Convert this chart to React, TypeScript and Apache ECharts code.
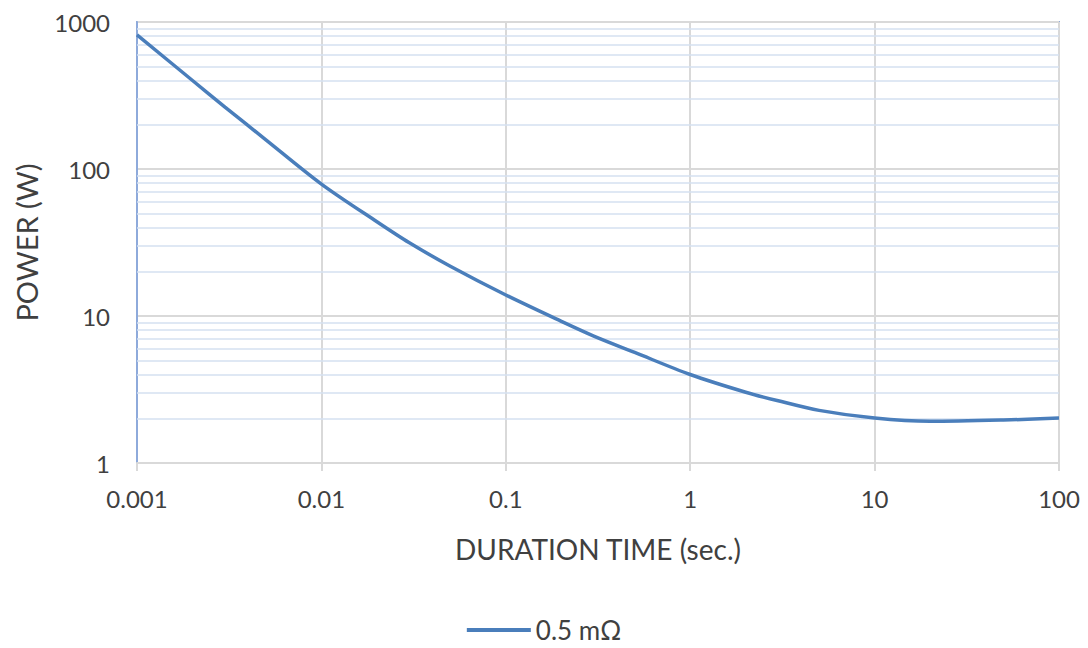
import React, { useEffect, useRef } from "react";
import * as echarts from "echarts";

const durations = [0.001, 0.002, 0.003, 0.005, 0.01, 0.02, 0.03, 0.05, 0.1, 0.2, 0.3, 0.5, 1, 2, 3, 5, 10, 20, 50, 100];
const power = [817, 400, 264, 158, 79, 43.8, 31.5, 21.8, 13.9, 9.2, 7.3, 5.65, 4.0, 3.03, 2.65, 2.28, 2.02, 1.92, 1.96, 2.02];
const seriesName = "0.5 mΩ";
const minorGridValues = [2, 3, 4, 5, 6, 7, 8, 9, 20, 30, 40, 50, 60, 70, 80, 90, 200, 300, 400, 500, 600, 700, 800, 900];

const FONT = "Lato";

export default function App() {
  const ref = useRef<HTMLDivElement>(null);
  useEffect(() => {
    if (!ref.current) return;
    const chart = echarts.init(ref.current, undefined, { renderer: "svg" });
    chart.setOption({
      animation: false,
      backgroundColor: "#ffffff",
      textStyle: { fontFamily: FONT },
      grid: {
        left: 137,
        right: 29,
        top: 22,
        bottom: 185,
        show: true,
        borderColor: "#8eaadb",
        borderWidth: 2,
        containLabel: false,
      },
      legend: {
        show: true,
        top: 617,
        left: "center",
        padding: 0,
        itemWidth: 64,
        itemHeight: 14,
        itemGap: 6,
        icon: "path://M0,5 L64,5 L64,9 L0,9 Z",
        textStyle: { fontFamily: FONT, fontSize: 26, color: "#404040" },
        data: [seriesName],
      },
      xAxis: {
        type: "log",
        logBase: 10,
        min: 0.001,
        max: 100,
        name: "DURATION TIME (sec.)",
        nameLocation: "middle",
        nameGap: 72,
        nameTextStyle: { fontFamily: FONT, fontSize: 28, color: "#404040" },
        axisLine: { show: true, lineStyle: { color: "#d9d9d9", width: 2 } },
        axisTick: { show: true, length: 8, lineStyle: { color: "#d9d9d9", width: 2 } },
        axisLabel: {
          fontFamily: FONT,
          fontSize: 24,
          color: "#404040",
          margin: 23,
          formatter: (v: number) => String(Number(v.toPrecision(3))),
        },
        splitLine: { show: true, lineStyle: { color: "#d9d9d9", width: 2 } },
      },
      yAxis: {
        type: "log",
        logBase: 10,
        min: 1,
        max: 1000,
        name: "POWER (W)",
        nameLocation: "middle",
        nameGap: 96,
        nameTextStyle: { fontFamily: FONT, fontSize: 29, color: "#404040" },
        axisLine: { show: true, lineStyle: { color: "#8eaadb", width: 2 } },
        axisTick: { show: false },
        axisLabel: {
          fontFamily: FONT,
          fontSize: 24,
          color: "#404040",
          margin: 27,
          formatter: (v: number) => String(Math.round(v)),
        },
        splitLine: { show: true, lineStyle: { color: "#d9d9d9", width: 2 } },
      },
      series: [
        {
          name: seriesName,
          type: "line",
          data: durations.map((d, i) => [d, power[i]]),
          smooth: 0.3,
          symbol: "none",
          z: 5,
          lineStyle: { color: "#4a7ebb", width: 3.5 },
          itemStyle: { color: "#4a7ebb" },
          markLine: {
            silent: true,
            symbol: ["none", "none"],
            label: { show: false },
            z: 1,
            lineStyle: { color: "#d5e0f1", width: 1.5, type: "solid" },
            data: minorGridValues.map((v) => ({ yAxis: v })),
          },
        },
      ],
    });
    return () => chart.dispose();
  }, []);
  return (
    <div
      ref={ref}
      style={{ position: "fixed", left: 0, top: 0, width: 1088, height: 648 }}
    />
  );
}
